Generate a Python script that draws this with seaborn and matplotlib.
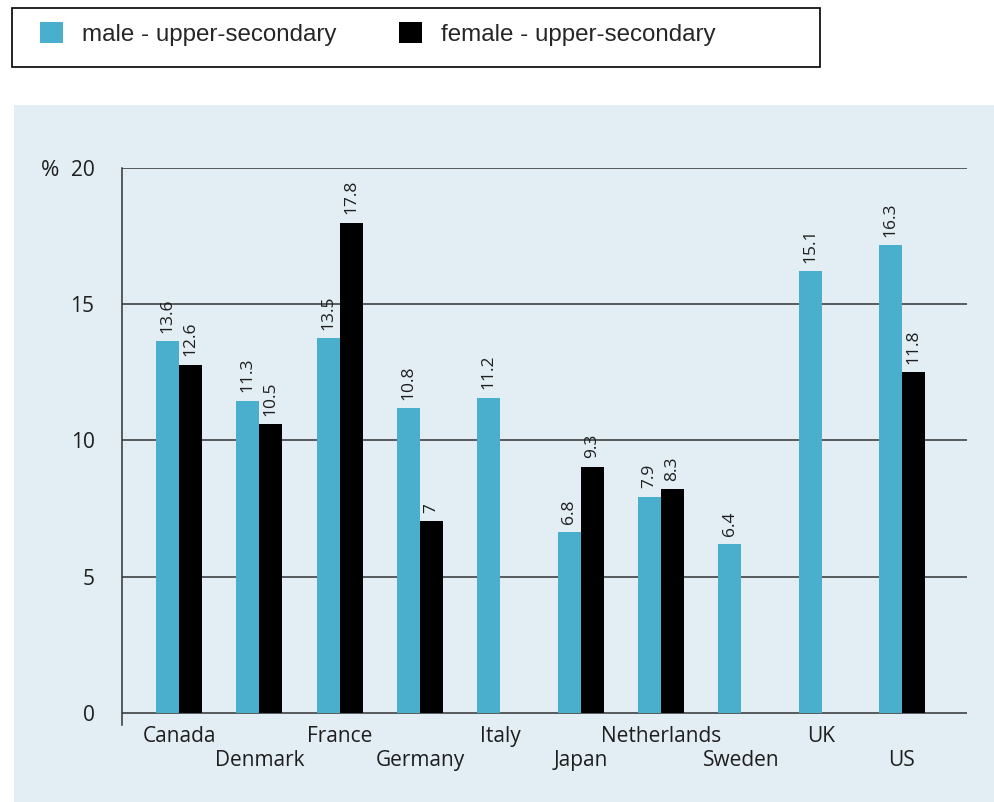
import numpy as np
import pandas as pd
import matplotlib
matplotlib.use("Agg")
import matplotlib.pyplot as plt
from matplotlib.patches import Rectangle, Patch
from matplotlib.transforms import blended_transform_factory
import seaborn as sns

countries = ["Canada", "Denmark", "France", "Germany", "Italy", "Japan",
             "Netherlands", "Sweden", "UK", "US"]
male_values = [13.65, 11.45, 13.76, 11.19, 11.56, 6.64, 7.93, 6.20, 16.21, 17.17]
female_values = [12.77, 10.60, 17.98, 7.04, np.nan, 9.03, 8.22, np.nan, np.nan, 12.51]
male_labels = ["13.6", "11.3", "13.5", "10.8", "11.2", "6.8", "7.9", "6.4", "15.1", "16.3"]
female_labels = ["12.6", "10.5", "17.8", "7", "", "9.3", "8.3", "", "", "11.8"]
series_names = ["male - upper-secondary", "female - upper-secondary"]
y_ticks = [0, 5, 10, 15, 20]

BLUE = "#4aafcd"
BLACK = "#000000"
BG = "#e2edf4"
LINE = "#333333"
TXT = "#1e1e1e"

sns.set_theme(style="white")
plt.rcParams["font.family"] = ["Open Sans", "DejaVu Sans"]

df = pd.DataFrame({
    "country": countries * 2,
    "value": male_values + female_values,
    "series": [series_names[0]] * len(countries) + [series_names[1]] * len(countries),
})

W, H = 994, 802
fig = plt.figure(figsize=(W / 100, H / 100), dpi=100)
fig.patch.set_facecolor("white")

# light blue panel
fig.patches.append(Rectangle((14 / W, 0), (W - 14) / W, 1 - 105 / H,
                             transform=fig.transFigure, facecolor=BG,
                             edgecolor="none", zorder=-10))
# legend frame
fig.patches.append(Rectangle((12 / W, 1 - 67 / H), 808 / W, 59 / H,
                             transform=fig.transFigure, facecolor="white",
                             edgecolor="black", linewidth=1.2, zorder=-10))

ax = fig.add_axes([122 / W, 1 - 725 / H, 845 / W, (725 - 167.7) / H])
ax.set_zorder(1)
ax.set_facecolor(BG)

sns.barplot(data=df, x="country", y="value", hue="series",
            palette=[BLUE, BLACK], width=0.573, dodge=True, saturation=1,
            gap=0, legend=False, ax=ax, linewidth=0, zorder=3)

ax.set_xlim(-0.71, 9.81)
ax.set_ylim(-0.44, 20)
ax.set_xlabel("")
ax.set_ylabel("")

ax.set_axisbelow(True)
ax.set_yticks(y_ticks)
ax.set_yticklabels([str(t) for t in y_ticks], fontsize=15, color=TXT)
ax.yaxis.grid(True, color=LINE, linewidth=1.1)
ax.tick_params(axis="y", direction="out", length=10.8, width=1.1,
               color=LINE, pad=9)

# staggered category labels
ax.set_xticks(range(len(countries)))
ax.set_xticklabels([""] * len(countries))
ax.tick_params(axis="x", length=0)
for i, c in enumerate(countries):
    off = -1 if i % 2 == 0 else -18.3
    ax.annotate(c, xy=(i, 0), xycoords=("data", "axes fraction"),
                xytext=(0, off), textcoords="offset points",
                ha="center", va="top", fontsize=15, color=TXT)

for side in ["top", "right", "bottom"]:
    ax.spines[side].set_visible(False)
ax.spines["left"].set_color(LINE)
ax.spines["left"].set_linewidth(1.1)

# value labels
for cont, labels, vals in zip(ax.containers, [male_labels, female_labels],
                              [male_values, female_values]):
    if len(cont) == len(labels):
        labs = labels
    else:
        labs = [l for l, v in zip(labels, vals) if not np.isnan(v)]
    ax.bar_label(cont, labels=labs, rotation=90, padding=6,
                 fontsize=12.5, color=TXT)

# percent sign, aligned with the top tick label
fig.text(50 / W, y_ticks[-1], "%", ha="center", va="center_baseline",
         fontsize=16, color=TXT,
         transform=blended_transform_factory(fig.transFigure, ax.transData))

handles = [Patch(facecolor=BLUE, edgecolor="none"),
           Patch(facecolor=BLACK, edgecolor="none")]
fig.legend(handles, series_names, loc="center left",
           bbox_to_anchor=(40 / W, 1 - 34 / H), ncol=2, frameon=False,
           borderpad=0, borderaxespad=0, handlelength=0.95, handleheight=0.95,
           handletextpad=0.79, columnspacing=2.6,
           prop={"family": ["Liberation Sans", "DejaVu Sans"], "size": 17.4})

fig.savefig("out.png", dpi=100, facecolor="white")
